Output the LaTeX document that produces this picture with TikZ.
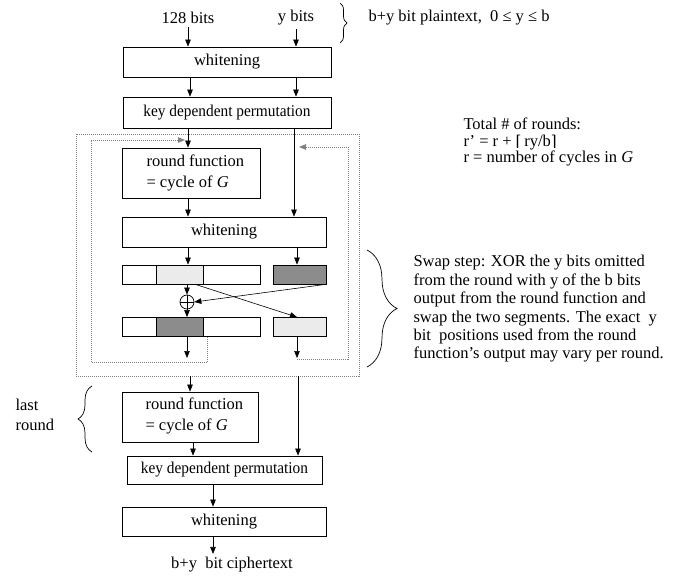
\documentclass[tikz,border=0pt]{standalone}
\usepackage{fontspec}
\usepackage{graphicx}
\setmainfont{Liberation Serif}
\newfontfamily\dvs{DejaVu Serif}
\usetikzlibrary{arrows.meta,decorations.pathreplacing,calc}
\definecolor{lightseg}{HTML}{EBEBEB}
\definecolor{darkseg}{HTML}{8C8C8C}
\begin{document}
\begin{tikzpicture}[x=1pt,y=-1pt,
  every node/.style={font=\fontsize{16.5}{18.4}\selectfont},
  box/.style={draw, line width=0.8pt, inner sep=0pt},
  seg/.style={draw, line width=0.8pt, inner sep=0pt, minimum height=19pt},
  arr/.style={-{Triangle[length=7pt,width=5.5pt]}, line width=0.6pt},
  dots/.style={draw=gray, line width=0.8pt, dash pattern=on 1pt off 1pt},
  darr/.style={dots, -{Triangle[length=7pt,width=5.5pt]}},
  brc/.style={decorate, line width=0.7pt},
  kdp/.style={box, minimum height=30pt}]
\useasboundingbox (0,0) rectangle (686,578);
% helper x-positions
\coordinate (L) at (188,0);
\coordinate (L2) at (190,0);
\coordinate (L3) at (193,0);
\coordinate (R) at (296,0);
\coordinate (R2) at (294,0);
\coordinate (R3) at (297,0);
\coordinate (M) at (213,0);
% top labels
\node (t128) at (188,18) {128 bits};
\node (ty) at (296,18) {y bits};
\node[anchor=west] (plain) at (365,18) {b+y bit plaintext,\ \ 0 ≤ y ≤ b};
\draw[brc, decoration={brace, amplitude=7pt}] (340,3) -- (340,43);
% upper boxes
\node[box, minimum width=208pt, minimum height=30pt] (w1) at (227,62) {whitening};
\node[kdp, minimum width=208pt, minimum height=31pt] (kdp1) at (227,112.5) {\scalebox{0.93}[1]{key dependent permutation}};
\draw[arr] (t128.south -| L) -- (w1.north -| L);
\draw[arr] (ty.south -| R) -- (w1.north -| R);
\draw[arr] (w1.south -| L2) -- (kdp1.north -| L2);
\draw[arr] (w1.south -| R) -- (kdp1.north -| R);
% outer dotted round box
\node[dots, minimum width=283pt, minimum height=242pt, inner sep=0pt] (loop) at (217.5,255) {};
% round function 1
\node[box, minimum width=138pt, minimum height=50pt] (rf1) at (191,173) {};
\node[anchor=west, align=left, font=\fontsize{16.5}{21}\selectfont] (rf1t) at (143,172.5) {round function\\= cycle of \textit{G}};
\draw[arr] (kdp1.south -| L) -- (rf1.north -| L);
\node[box, minimum width=204pt, minimum height=30pt] (w2) at (224,232) {whitening};
\draw[arr] (rf1.south -| L) -- (w2.north -| L);
\draw[arr] (kdp1.south -| R2) -- (w2.north -| R2);
% upper segment row
\node[seg, minimum width=34pt] (ula) at (139,274.5) {};
\node[seg, minimum width=47pt, fill=lightseg] (ulb) at (179.5,274.5) {};
\node[seg, minimum width=57pt] (ulc) at (231.5,274.5) {};
\node[seg, minimum width=53pt, fill=darkseg] (ur) at (299.5,274.5) {};
\draw[arr] (w2.south -| L) -- (ulb.north -| L);
\draw[arr] (w2.south -| R3) -- (ur.north -| R3);
% xor
\node[circle, draw, line width=0.7pt, minimum size=14pt, inner sep=0pt] (xor) at (187,302) {};
\draw[line width=0.7pt] (xor.north) -- (xor.south) (xor.west) -- (xor.east);
% lower segment row
\node[seg, minimum width=34pt] (lla) at (139,327) {};
\node[seg, minimum width=47pt, fill=darkseg] (llb) at (179.5,327) {};
\node[seg, minimum width=57pt] (llc) at (231.5,327) {};
\node[seg, minimum width=53pt, fill=lightseg] (lr) at (299.5,327) {};
\draw[arr] (ulb.south -| xor) -- (xor.north);
\draw[arr] ($(ur.south east)+(-1,0)$) -- (xor.east);
\draw[arr] ($(ulb.south east)+(-8,0)$) -- (lr.north -| R3);
\draw[arr] (xor.south) -- (llb.north -| xor);
\coordinate (eL) at (187,358);
\coordinate (eR) at (297,358);
\draw[arr] (llb.south -| eL) -- (eL);
\draw[arr] (lr.south -| eR) -- (eR);
% feedback loops
\draw[darr] ($(llc.south west)+(5,0)$) |- (91,362) |- (185,140);
\draw[darr] (297,359) -| (348,147) -- (299,147);
% swap brace and text
\draw[brc, decoration={brace, amplitude=30pt}] (367,250) -- (367,367);
\node[anchor=west, align=left] (swap) at (410,309) {Swap step: XOR the y bits omitted\\from the round with y of the b bits\\output from the round function and\\swap the two segments. The exact\ \ y\\bit\ \ positions used from the round\\function’s output may vary per round.};
\node[anchor=west, align=left, font=\fontsize{16.5}{16.6}\selectfont] (total) at (460,142) {Total \# of rounds:\\r’ = r + {\dvs\fontsize{15}{16.6}\selectfont ⌈}\,ry/b{\dvs\fontsize{15}{16.6}\selectfont ⌉}\\r = number of cycles in \textit{G}};
% last round
\node[box, minimum width=136pt, minimum height=50pt] (rf2) at (190,417) {};
\node[anchor=west, align=left, font=\fontsize{16.5}{21}\selectfont] (rf2t) at (142,416) {round function\\= cycle of \textit{G}};
\draw[arr] (loop.south -| L2) -- (rf2.north -| L2);
\draw[brc, decoration={brace, amplitude=14pt}] (92,452) -- (92,386);
\node[anchor=west, align=left, font=\fontsize{16.5}{20}\selectfont] (last) at (12,415) {last\\round};
\node[kdp, minimum width=195pt, minimum height=28pt] (kdp2) at (224.5,470) {\scalebox{0.93}[1]{key dependent permutation}};
\draw[arr] (rf2.south -| L3) -- (kdp2.north -| L3);
\coordinate (R4) at (298,0);
\draw[arr] (loop.south -| R4) -- (kdp2.north -| R4);
\node[box, minimum width=204pt, minimum height=29pt] (w3) at (224,521.5) {whitening};
\draw[arr] (kdp2.south -| M) -- (w3.north -| M);
\node (ct) at (232,565) {b+y\ \ bit ciphertext};
\draw[arr] (w3.south -| M) -- (ct.north -| M);
\end{tikzpicture}
\end{document}
